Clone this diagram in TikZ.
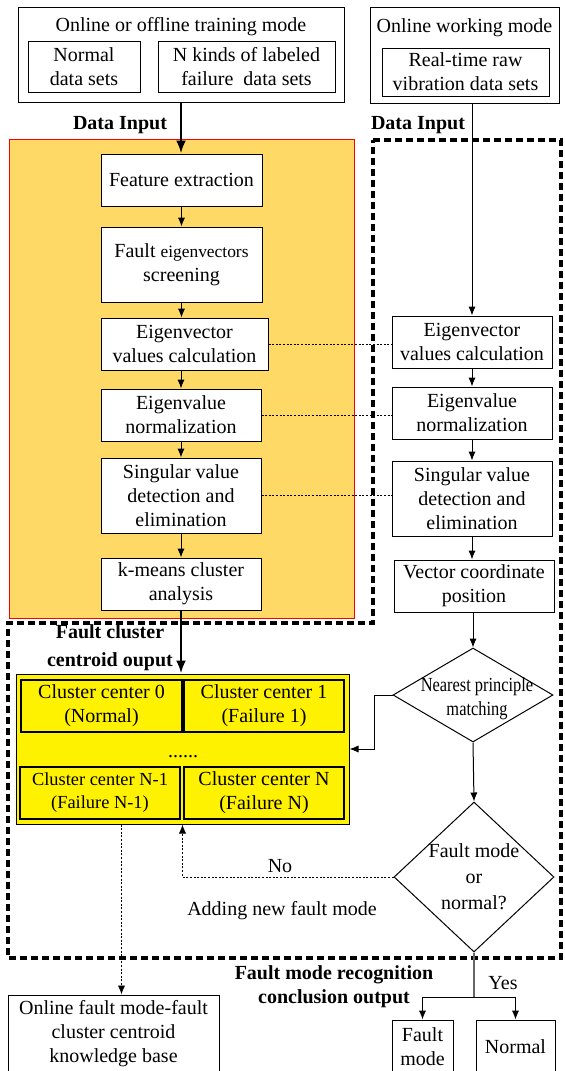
\documentclass[tikz,border=0pt]{standalone}
\usepackage{fontspec}
\setmainfont{Liberation Serif}
\newfontfamily\narrowfont[FakeStretch=0.82]{Liberation Serif}
\usetikzlibrary{shapes,arrows.meta,positioning,calc}
\definecolor{traingold}{HTML}{FFD966}

\begin{document}
\begin{tikzpicture}[x = 0.5pt, y = -0.5pt, > = {Latex[length = 4.5pt, width = 3.6pt]}]
    \tikzset{
      block/.style = {draw, fill = white, inner sep = 0pt, align = center, line width = 0.5pt},
      outerbox/.style = {draw, fill = white, inner sep = 0pt, line width = 0.5pt},
      cluster/.style = {draw, fill = yellow, inner sep = 0pt, align = center, line width = 0.55pt, minimum width = 80pt, minimum height = 26pt},
      decision/.style = {draw, diamond, fill = white, inner sep = 0pt, line width = 0.5pt},
      heading/.style = {font = \bfseries, align = center},
      flow/.style = {->, line width = 0.5pt},
      mainflow/.style = {-{Latex[length = 6.5pt, width = 5pt]}, line width = 1.4pt},
      link/.style = {dash pattern = on 1pt off 0.8pt, line width = 0.45pt},
      region/.style = {line width = 1.6pt, dash pattern = on 3.5pt off 2pt},
    }
    \useasboundingbox (0, 0) rectangle (564, 1071);

    \draw [red, fill = traingold, line width = 0.4pt] (9, 139) rectangle (354, 618);
    \draw [region] (373, 140) -- (561, 140) -- (561, 958) -- (8, 958) -- (8, 623) -- (373, 623) -- cycle;

    \node [outerbox, minimum width = 163pt, minimum height = 47.5pt] (train) at (181, 54.5) {};
    \node (traintitle) at (181, 27) {Online or offline training mode};
    \node [block, minimum width = 56pt, minimum height = 25.5pt] (normalset) at (84, 66.5) {Normal\\data sets};
    \node [block, minimum width = 88.5pt, minimum height = 25.5pt] (failset) at (246.5, 66.5) {N kinds of labeled\\failure\ \ data sets};

    \node [outerbox, minimum width = 94.5pt, minimum height = 48pt] (online) at (464.5, 55) {};
    \node (onlinetitle) at (464.5, 28) {Online working mode};
    \node [block, minimum width = 83.5pt, minimum height = 24pt] (rawset) at (465.5, 72) {Real-time raw\\vibration data sets};

    \node [heading] (input1) at (120, 125) {Data Input};
    \node [heading] (input2) at (418, 125) {Data Input};

    \node [block, minimum width = 80.5pt, minimum height = 26pt] (feature) at (181.5, 180) {Feature extraction};
    \node [block, minimum width = 80.5pt, minimum height = 37.5pt] (screen) at (181.5, 264.5) {Fault {\fontsize{8.7}{10}\selectfont eigenvectors}\\screening};
    \node [block, minimum width = 83.5pt, minimum height = 26pt] (evcalc) at (184.5, 344) {Eigenvector\\values calculation};
    \node [block, minimum width = 80pt, minimum height = 26pt] (evnorm) at (181, 415) {Eigenvalue\\normalization};
    \node [block, minimum width = 80pt, minimum height = 37.5pt] (singular) at (181, 495.5) {Singular value\\detection and\\elimination};
    \node [block, minimum width = 80pt, minimum height = 26pt] (kmeans) at (181, 584) {k-means cluster\\analysis};

    \node [block, minimum width = 80pt, minimum height = 26pt] (revcalc) at (472, 342) {Eigenvector\\values calculation};
    \node [block, minimum width = 80pt, minimum height = 26pt] (revnorm) at (472, 413) {Eigenvalue\\normalization};
    \node [block, minimum width = 80pt, minimum height = 37.5pt] (rsingular) at (472, 498.5) {Singular value\\detection and\\elimination};
    \node [block, minimum width = 80pt, minimum height = 26pt] (vecpos) at (474, 586) {Vector coordinate\\position};
    \node [decision, minimum width = 80pt, minimum height = 47pt,
      label = {[align = center, font = \narrowfont, xshift = 2pt, yshift = -2pt]center:Nearest principle\\matching}] (nearest) at (473, 695) {};
    \node [decision, minimum width = 80pt, minimum height = 75pt,
      label = {[align = center]center:Fault mode\\[1pt]or\\[1pt]normal?}] (decide) at (474, 877) {};

    \node [draw, fill = yellow, line width = 0.5pt, minimum width = 166.5pt, minimum height = 75pt] (clusters) at (182.5, 749) {};
    \node [cluster, minimum width = 80.5pt] (c0) at (101.5, 706) {Cluster center 0\\(Normal)};
    \node [cluster] (c1) at (264, 706) {Cluster center 1\\(Failure 1)};
    \node (dots) at (183, 757) {......};
    \node [cluster, font = \fontsize{9.2}{11.5}\selectfont] (cn1) at (100, 793) {Cluster center N-1\\(Failure N-1)};
    \node [cluster] (cn) at (264, 793) {Cluster center N\\(Failure N)};
    \node [heading] (centroidout) at (110, 648) {Fault cluster\\[2pt]centroid ouput};

    \node [block, minimum width = 105.5pt, minimum height = 39pt] (knowledge) at (113.5, 1034) {Online fault mode-fault\\cluster centroid\\knowledge base};
    \node [block, minimum width = 30.5pt, minimum height = 26.5pt] (faultmode) at (422.5, 1046.5) {Fault\\mode};
    \node [block, minimum width = 39.5pt, minimum height = 26.5pt] (normalmode) at (515.5, 1046.5) {Normal};

    \node (nolabel) at (280, 866) {No};
    \node (addlabel) at (282, 911) {Adding new fault mode};
    \node (yeslabel) at (503, 983) {Yes};
    \node [heading] (recognition) at (334, 987) {Fault mode recognition\\conclusion output};

    \draw [mainflow] (train.south) -- (train.south |- feature.north);
    \draw [flow] (feature.south) -- (screen.north);
    \draw [flow] (screen.south) -- (screen.south |- evcalc.north);
    \draw [flow] (evnorm.north |- evcalc.south) -- (evnorm.north);
    \draw [flow] (evnorm.south) -- (singular.north);
    \draw [flow] (singular.south) -- (kmeans.north);
    \draw [mainflow] (kmeans.south) -- (kmeans.south |- clusters.north);

    \draw [flow] (online.south -| revcalc.north) -- (revcalc.north);
    \draw [flow] (revcalc.south) -- (revnorm.north);
    \draw [flow] (revnorm.south) -- (rsingular.north);
    \draw [flow] (rsingular.south) -- (rsingular.south |- vecpos.north);
    \draw [flow] (vecpos.south -| nearest.north) -- (nearest.north);
    \draw [flow] (nearest.west) -- ++(-18, 0) |- (clusters.east);
    \draw [flow] (nearest.south) -- (decide.north);

    \draw [link] (evcalc.east) -- (evcalc.east -| revcalc.west);
    \draw [link] (evnorm.east) -- (evnorm.east -| revnorm.west);
    \draw [link] (singular.east) -- (singular.east -| rsingular.west);

    \draw [link, ->] (decide.west) -| (clusters.south);
    \coordinate (kbtap) at ([xshift = 53pt] clusters.south west);
    \draw [link, ->] (kbtap) -- (kbtap |- knowledge.north);

    \coordinate (split) at (474, 997);
    \draw [gray!80!black, line width = 0.6pt] (decide.south) -- (split);
    \draw [flow] (split) -| (faultmode.north);
    \draw [flow] (split) -| (normalmode.north);
  \end{tikzpicture}
\end{document}
